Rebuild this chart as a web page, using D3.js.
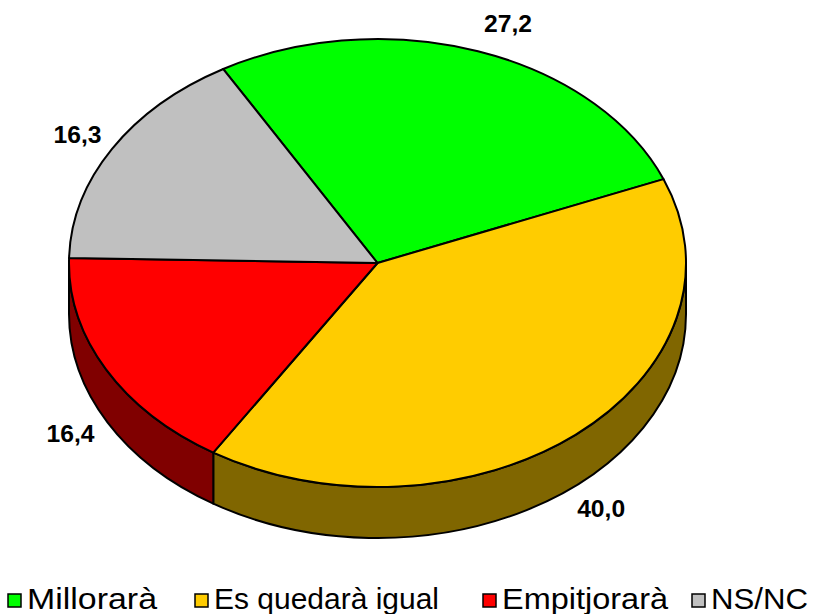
<!DOCTYPE html>
<meta charset="utf-8">
<style>
body { margin: 0; background: #fff; font-family: "Liberation Sans", Arial, sans-serif; }
</style>
<body>
<script src="https://cdn.jsdelivr.net/npm/d3@7"></script>
<script>

// data
var categories = ["Millorarà", "Es quedarà igual", "Empitjorarà", "NS/NC"];
var values = [27.2, 40.0, 16.4, 16.3];
var labels = ["27,2", "40,0", "16,4", "16,3"];
var topColors = ["#00ff00", "#ffcc00", "#ff0000", "#c0c0c0"];
var sideColors = ["#008000", "#806600", "#800000", "#606060"];

var width = 818, height = 614;
var cx = 377.5, cy = 263, rx = 308.5, ry = 224, depth = 51;

var svg = d3.select("body").append("svg")
  .attr("width", width)
  .attr("height", height);

var pie = d3.pie()
  .sort(null)
  .startAngle(-Math.PI / 6)
  .endAngle(-Math.PI / 6 + 2 * Math.PI)
  .value(function (d) { return d; });

var arcs = pie(values);

function pt(a, dy) {
  return [cx + rx * Math.sin(a), cy - ry * Math.cos(a) + (dy || 0)];
}

// sides (only the front half, d3 angles 90..270 deg)
var lo = Math.PI / 2, hi = 3 * Math.PI / 2;
arcs.forEach(function (d, i) {
  var a0 = Math.max(d.startAngle, lo), a1 = Math.min(d.endAngle, hi);
  if (a1 <= a0) return;
  var p0 = pt(a0), p1 = pt(a1), q1 = pt(a1, depth), q0 = pt(a0, depth);
  var path = "M" + p0 + " A" + rx + "," + ry + " 0 0 1 " + p1 +
    " L" + q1 + " A" + rx + "," + ry + " 0 0 0 " + q0 + " Z";
  svg.append("path")
    .attr("d", path)
    .attr("fill", sideColors[i])
    .attr("stroke", "#000")
    .attr("stroke-width", 2)
    .attr("stroke-linejoin", "round");
});

// top face
svg.selectAll(".slice")
  .data(arcs)
  .enter()
  .append("path")
  .attr("class", "slice")
  .attr("d", function (d) {
    var p0 = pt(d.startAngle), p1 = pt(d.endAngle);
    var large = (d.endAngle - d.startAngle) > Math.PI ? 1 : 0;
    return "M" + cx + "," + cy + " L" + p0 + " A" + rx + "," + ry + " 0 " + large + " 1 " + p1 + " Z";
  })
  .attr("fill", function (d, i) { return topColors[i]; })
  .attr("stroke", "#000")
  .attr("stroke-width", 2)
  .attr("stroke-linejoin", "round");

// value labels
var lr = 1.13;
svg.selectAll(".lbl")
  .data(arcs)
  .enter()
  .append("text")
  .attr("class", "lbl")
  .attr("x", function (d) {
    var a = (d.startAngle + d.endAngle) / 2;
    return cx + lr * rx * Math.sin(a) + (Math.cos(a) > 0.9 ? 17 : 0);
  })
  .attr("y", function (d) {
    var a = (d.startAngle + d.endAngle) / 2;
    var c = Math.cos(a);
    return cy - lr * ry * c + (c < 0 ? depth : 0);
  })
  .attr("text-anchor", "middle")
  .attr("dominant-baseline", "central")
  .attr("font-size", 24)
  .attr("font-weight", "bold")
  .attr("textLength", 48)
  .attr("lengthAdjust", "spacingAndGlyphs")
  .text(function (d, i) { return labels[i]; });

// legend
var legX = [8, 195, 483, 692];
var legW = [130, 225, 166, 97];
var leg = svg.selectAll(".leg")
  .data(categories)
  .enter()
  .append("g")
  .attr("class", "leg")
  .attr("transform", function (d, i) { return "translate(" + legX[i] + ",594)"; });

leg.append("rect")
  .attr("width", 13)
  .attr("height", 13)
  .attr("fill", function (d, i) { return topColors[i]; })
  .attr("stroke", "#000")
  .attr("stroke-width", 1.5);

leg.append("text")
  .attr("x", 19)
  .attr("y", 15)
  .attr("font-size", 30)
  .attr("textLength", function (d, i) { return legW[i]; })
  .attr("lengthAdjust", "spacingAndGlyphs")
  .text(function (d) { return d; });

</script>
</body>
